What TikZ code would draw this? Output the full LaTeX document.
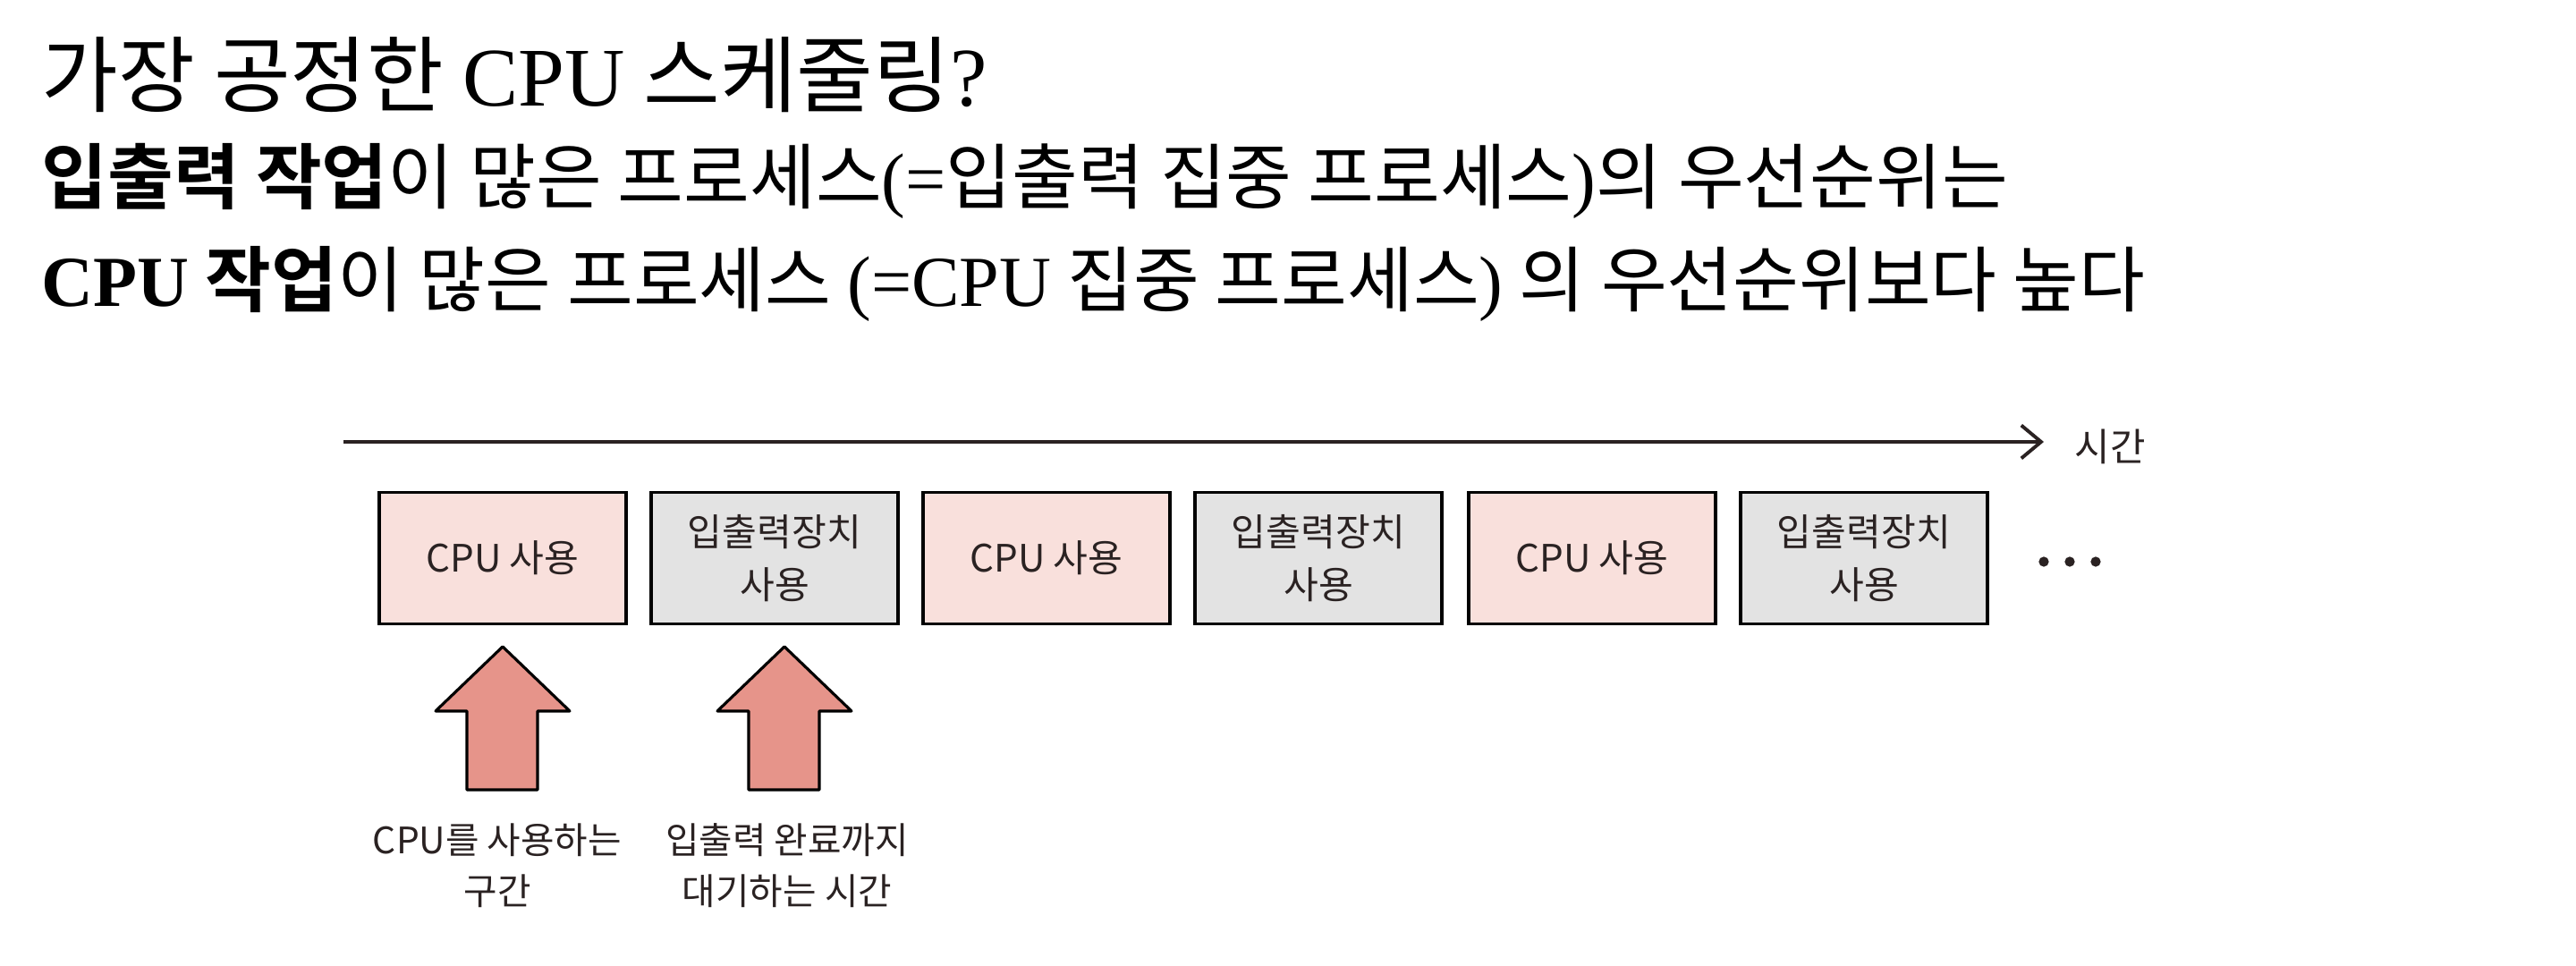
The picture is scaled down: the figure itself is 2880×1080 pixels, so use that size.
\documentclass[tikz,border=0pt]{standalone}
\usepackage{fontspec}
\setmainfont{Noto Sans CJK KR}[BoldFont={Noto Sans CJK KR Bold}]
\newfontfamily\latf{Liberation Serif}
\usetikzlibrary{arrows.meta}
\definecolor{cpuFill}{HTML}{F9E0DC}
\definecolor{ioFill}{HTML}{E3E3E3}
\definecolor{arrFill}{HTML}{E6948A}
\definecolor{ink}{HTML}{2A2222}
\newcommand\serifpart[1]{{\latf #1}}
\begin{document}
\begin{tikzpicture}[x=0.01cm,y=-0.01cm,
  hd/.style={anchor=base west, inner sep=0pt, text=black},
  boxbase/.style={draw=black, line width=1.1pt, minimum width=2.75cm, minimum height=1.47cm, inner sep=0pt, align=center, text=ink, font=\fontsize{12}{16.8}\selectfont},
  cpubox/.style={boxbase, fill=cpuFill},
  iobox/.style={boxbase, fill=ioFill},
  lbl/.style={align=center, inner sep=0pt, text=ink, font=\fontsize{11.6}{16.2}\selectfont},
  bigup/.pic={\draw[draw=black, line width=0.9pt, fill=arrFill, line join=round]
     (0,0) -- (75,72) -- (39,72) -- (39,160) -- (-40,160) -- (-40,72) -- (-75,72) -- cycle;}]
\useasboundingbox[fill=white] (0,0) rectangle (2880,1080);

\node[hd, font=\fontsize{26.5}{30}\selectfont] (title) at (46,119)
  {가장 공정한 \serifpart{CPU} 스케줄링\serifpart{?}};
\node[hd, font=\fontsize{22.8}{27}\selectfont] (line2) at (46,228)
  {\textbf{입출력 작업}이 많은 프로세스\serifpart{(=}입출력 집중 프로세스\serifpart{)}의 우선순위는};
\node[hd, font=\fontsize{22.8}{27}\selectfont] (line3) at (46,343)
  {\textbf{\serifpart{CPU} 작업}이 많은 프로세스 \serifpart{(=CPU} 집중 프로세스\serifpart{)} 의 우선순위보다 높다};

\coordinate (t0) at (384,494);
\coordinate (t1) at (2285,494);
\draw[line width=1.1pt, ink, -{Straight Barb[length=6.3pt,width=10.5pt,line width=1.1pt]}] (t0) -- (t1);
\node[anchor=west, inner sep=0pt, text=ink, font=\fontsize{12.2}{14}\selectfont] (time) at (2319,499) {시간};

\node[cpubox] (b1) at (562,624) {CPU 사용};
\node[iobox]  (b2) at (866,624) {입출력장치\\사용};
\node[cpubox] (b3) at (1170,624) {CPU 사용};
\node[iobox]  (b4) at (1474,624) {입출력장치\\사용};
\node[cpubox] (b5) at (1780,624) {CPU 사용};
\node[iobox]  (b6) at (2084,624) {입출력장치\\사용};

\fill[ink] (2285,628) circle (1.6pt);
\fill[ink] (2314,628) circle (1.6pt);
\fill[ink] (2343,628) circle (1.6pt);

\pic at (562,723) {bigup};
\pic at (877,723) {bigup};

\node[lbl] (lab1) at (556,968) {CPU를 사용하는\\구간};
\node[lbl] (lab2) at (880,968) {입출력 완료까지\\대기하는 시간};
\end{tikzpicture}
\end{document}
